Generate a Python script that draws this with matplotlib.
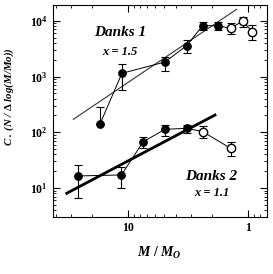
import matplotlib
matplotlib.use("Agg")
import matplotlib.pyplot as plt
import numpy as np
from matplotlib.ticker import LogLocator, FuncFormatter, NullFormatter

plt.rcParams['font.family'] = ['Liberation Serif', 'DejaVu Serif']
plt.rcParams['mathtext.fontset'] = 'custom'
plt.rcParams['mathtext.rm'] = 'Liberation Serif:bold'
plt.rcParams['mathtext.it'] = 'Liberation Serif:italic:bold'
plt.rcParams['mathtext.bf'] = 'Liberation Serif:bold'

# Danks 1 data
d1_mass = [17.2, 11.3, 4.94, 3.26, 2.40, 1.78]
d1_val = [141, 1140, 1820, 3570, 8130, 8130]
d1_lo = [141, 573, 1260, 2630, 6810, 6810]
d1_hi = [284, 1675, 2240, 4510, 9480, 9480]
d1o_mass = [1.40, 1.11, 0.92]
d1o_val = [7310, 9880, 6350]
d1o_lo = [5780, 7800, 4500]
d1o_hi = [9100, 11800, 8370]
d1_fit_mass = [28.7, 1.25]
d1_fit_val = [171, 16000]

# Danks 2 data
d2_mass = [26.1, 11.4, 7.5, 4.94, 3.26]
d2_val = [16.5, 17.2, 67.9, 113, 118]
d2_lo = [6.7, 10, 52.3, 86, 97]
d2_hi = [25.9, 23.9, 83.4, 135, 135]
d2o_mass = [2.40, 1.40]
d2o_val = [103, 51.6]
d2o_lo = [80, 37.6]
d2o_hi = [129, 66]
d2_fit_mass = [32.6, 1.89]
d2_fit_val = [8.07, 204]

fig = plt.figure(figsize=(2.73, 2.74), dpi=100)
ax = fig.add_axes([0.193, 0.208, 0.784, 0.775])
ax.set_xscale('log')
ax.set_yscale('log')


def draw(mass, val, lo, hi, omass, oval, olo, ohi):
    allm = list(mass) + list(omass)
    allv = list(val) + list(oval)
    ax.plot(allm, allv, color='black', lw=0.7, zorder=2)
    v = np.array(val); ov = np.array(oval)
    ax.errorbar(mass, val, yerr=[v - np.array(lo), np.array(hi) - v], fmt='o',
                color='black', ms=5.3, capsize=3, elinewidth=0.8, capthick=0.8, zorder=3)
    ax.errorbar(omass, oval, yerr=[ov - np.array(olo), np.array(ohi) - ov], fmt='o',
                mfc='white', mec='black', color='black', ms=6, capsize=3,
                elinewidth=0.8, capthick=0.8, zorder=3)


draw(d1_mass, d1_val, d1_lo, d1_hi, d1o_mass, d1o_val, d1o_lo, d1o_hi)
draw(d2_mass, d2_val, d2_lo, d2_hi, d2o_mass, d2o_val, d2o_lo, d2o_hi)
ax.plot(d1_fit_mass, d1_fit_val, color='#333333', lw=0.8, zorder=1)
ax.plot(d2_fit_mass, d2_fit_val, color='black', lw=2.0, zorder=1)

ax.set_xlim(42.7, 0.70)
ax.set_ylim(3.03, 19400)

ax.xaxis.set_major_locator(LogLocator(base=10))
ax.xaxis.set_minor_locator(LogLocator(base=10, subs=np.arange(2, 10)))
ax.xaxis.set_minor_formatter(NullFormatter())
ax.xaxis.set_major_formatter(FuncFormatter(lambda v, p: '%d' % round(v) if v >= 1 else ''))
ax.yaxis.set_major_locator(LogLocator(base=10))
ax.yaxis.set_minor_locator(LogLocator(base=10, subs=np.arange(2, 10)))
ax.yaxis.set_minor_formatter(NullFormatter())
ax.yaxis.set_major_formatter(FuncFormatter(lambda v, p: r'$\mathbf{10^{%d}}$' % round(np.log10(v))))

ax.tick_params(which='both', direction='in', top=True, right=True, labelsize=8.5)
ax.tick_params(which='major', length=5, width=0.8)
ax.tick_params(which='minor', length=2.5, width=0.6)
for lab in ax.get_xticklabels():
    lab.set_fontweight('bold')
for s in ax.spines.values():
    s.set_linewidth(0.8)

ax.set_xlabel(r'$M\ /\ M_O$', fontsize=10, labelpad=8)
ax.set_ylabel(r'C . (N / $\Delta$ log(M/Mo))', fontsize=7.8, fontstyle='italic',
              fontweight='bold')
ax.yaxis.set_label_coords(-0.17, 0.565)

fig.text(120 / 273, 1 - 33 / 274, 'Danks 1', fontsize=11, fontstyle='italic',
         fontweight='bold', ha='center', va='center')
fig.text(120 / 273, 1 - 52 / 274, 'x = 1.5', fontsize=9, fontstyle='italic',
         fontweight='bold', ha='center', va='center')
fig.text(211 / 273, 1 - 176 / 274, 'Danks 2', fontsize=11, fontstyle='italic',
         fontweight='bold', ha='center', va='center')
fig.text(212 / 273, 1 - 193 / 274, 'x = 1.1', fontsize=9, fontstyle='italic',
         fontweight='bold', ha='center', va='center')

fig.savefig('out.png', dpi=100)
